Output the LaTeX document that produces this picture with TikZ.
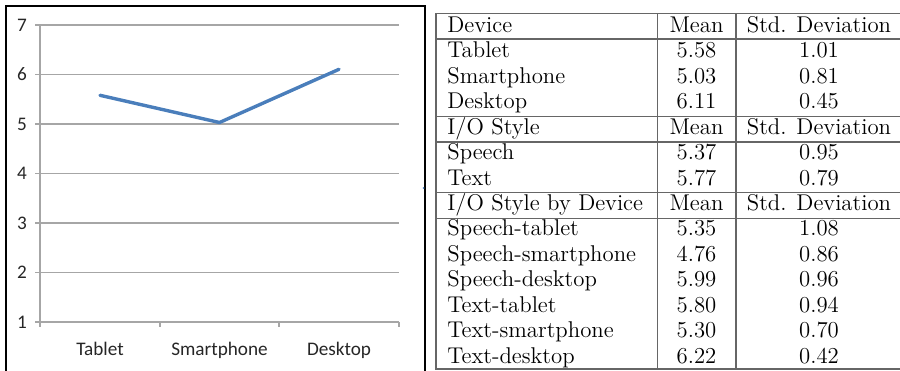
\documentclass[tikz,border=0pt]{standalone}
\usepackage{fontspec}
\newfontfamily\chartfont{Carlito}
\definecolor{lineblue}{HTML}{4A7EBB}
\definecolor{gridgray}{HTML}{A6A6A6}
\definecolor{rulegray}{HTML}{666666}
\begin{document}
\begin{tikzpicture}[x=0.5pt,y=-0.5pt,
  frame/.style={draw=black,line width=1.1pt},
  gridline/.style={draw=gridgray,line width=0.65pt},
  dataline/.style={draw=lineblue,line width=1.7pt,line cap=round,line join=round},
  ticklab/.style={font=\chartfont\fontsize{9.6}{11}\selectfont,text=black!85,inner sep=0pt},
  catlab/.style={font=\chartfont\fontsize{9.6}{11}\selectfont,text=black!85,inner sep=0pt,anchor=base},
  tabrule/.style={draw=rulegray,line width=0.6pt},
  cell/.style={font=\fontsize{11.4}{13}\selectfont,inner sep=0pt}]
\useasboundingbox (0,0) rectangle (900,370);
% ---------------- chart ----------------
\draw[frame] (6,371) -- (6,6) -- (425,6) -- (425,371);
\foreach \v in {1,...,7}{
  \pgfmathsetmacro\yy{322-(\v-1)*49.5}
  \draw[gridline] (35,\yy) -- (399,\yy);
  \node[ticklab] (tick\v) at (22,\yy) {\v};
}
\draw[gridline] (40,25) -- (40,327);
\foreach \x/\n in {160/a,279/b,399/c}{
  \draw[gridline] (\x,322) -- (\x,327);
}
\node[catlab] (catT) at (100,355) {Tablet};
\node[catlab] (catS) at (219.5,355) {Smartphone};
\node[catlab] (catD) at (339,355) {Desktop};
\coordinate (pT) at (100,95.3);
\coordinate (pS) at (219.5,122.5);
\coordinate (pD) at (339,69.3);
\draw[dataline] (pT) -- (pS) -- (pD);
\fill[lineblue] (423.5,188) circle (1);
% ---------------- table ----------------
\foreach \i/\a/\b/\c in {
  0/{Device}/{Mean}/{Std. Deviation},
  1/{Tablet}/{5.58}/{1.01},
  2/{Smartphone}/{5.03}/{0.81},
  3/{Desktop}/{6.11}/{0.45},
  4/{I/O Style}/{Mean}/{Std. Deviation},
  5/{Speech}/{5.37}/{0.95},
  6/{Text}/{5.77}/{0.79},
  7/{I/O Style by Device}/{Mean}/{Std. Deviation},
  8/{Speech-tablet}/{5.35}/{1.08},
  9/{Speech-smartphone}/{4.76}/{0.86},
  10/{Speech-desktop}/{5.99}/{0.96},
  11/{Text-tablet}/{5.80}/{0.94},
  12/{Text-smartphone}/{5.30}/{0.70},
  13/{Text-desktop}/{6.22}/{0.42}}{
  \pgfmathsetmacro\yy{32.3+25.46*\i}
  \node[cell,anchor=base west] (r\i a) at (447,\yy) {\a};
  \node[cell,anchor=base] (r\i b) at (696.5,\yy) {\b};
  \node[cell,anchor=base] (r\i c) at (819,\yy) {\c};
}
\foreach \y in {13.3,39,116.5,142,192.8,218.3,369}{
  \draw[tabrule] (436,\y) -- (900,\y);
}
\foreach \x in {436,657.5,736}{
  \draw[tabrule] (\x,13.3) -- (\x,370);
}
\end{tikzpicture}
\end{document}
